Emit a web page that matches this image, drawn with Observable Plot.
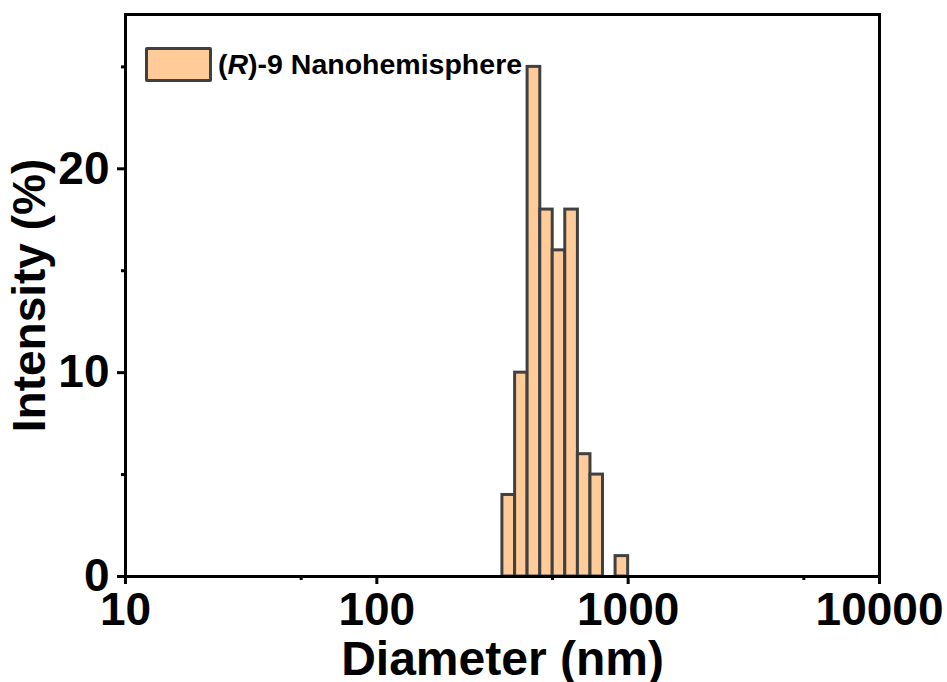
<!DOCTYPE html>
<html>
<head>
<meta charset="utf-8">
<script src="https://cdn.jsdelivr.net/npm/d3@7"></script>
<script src="https://cdn.jsdelivr.net/npm/@observablehq/plot@0.6"></script>
<style>
  html, body { margin: 0; padding: 0; background: #fff; }
  #chart { position: relative; width: 947px; height: 682px; }
  .legend {
    position: absolute; left: 145px; top: 47px;
    display: flex; align-items: center;
    font: bold 28.5px "Liberation Sans", Arial, sans-serif; color: #000;
  }
  .legend .swatch {
    width: 61px; height: 29px; background: #FFCC99;
    border: 3px solid #404040; border-radius: 2px; margin-right: 6px;
  }
</style>
</head>
<body>
<div id="chart"></div>
<script>
// Size distribution by intensity (DLS), log-spaced diameter bins
const binStart = [316, 355, 398, 447, 501, 562, 631, 708, 891];   // nm
const binEnd   = [355, 398, 447, 501, 562, 631, 708, 794, 1000];  // nm
const intensity = [4, 10, 25, 18, 16, 18, 6, 5, 1];               // %

const xMajor = [10, 100, 1000, 10000];
const xMinor = [50, 500, 5000];
const yMajor = [0, 10, 20];
const yMinor = [5, 15, 25];

const bins = binStart.map((d, i) => ({x1: d, x2: binEnd[i], y: intensity[i]}));

const font = "'Liberation Sans', Arial, sans-serif";

const plot = Plot.plot({
  width: 947,
  height: 682,
  marginLeft: 125,
  marginRight: 68,
  marginTop: 14,
  marginBottom: 106,
  style: {fontFamily: font, fontWeight: "bold", color: "#000", background: "#fff", overflow: "visible"},
  x: {type: "log", domain: [10, 10000]},
  y: {domain: [0, 27.57]},
  marks: [
    Plot.rectY(bins, {
      x1: "x1", x2: "x2", y: "y",
      fill: "#FFCC99", stroke: "#404040", strokeWidth: 3, inset: 0
    }),
    Plot.axisX({ticks: xMinor, tickSize: 4, strokeWidth: 3, tickFormat: () => "", label: null}),
    Plot.axisX({ticks: xMajor, tickSize: 8, tickPadding: 8, strokeWidth: 3,
      tickFormat: d => String(d), fontSize: 46, label: null}),
    Plot.axisY({ticks: yMinor, tickSize: 4, strokeWidth: 3, tickFormat: () => "", label: null}),
    Plot.axisY({ticks: yMajor, tickSize: 8, tickPadding: 8, strokeWidth: 3,
      tickFormat: d => String(d), fontSize: 46, label: null}),
    Plot.frame({stroke: "#000", strokeWidth: 3}),
    Plot.text(["Diameter (nm)"], {
      frameAnchor: "bottom", dy: 83, textAnchor: "middle", lineAnchor: "middle",
      fontSize: 48, fontWeight: "bold", fill: "#000"
    }),
    Plot.text(["Intensity (%)"], {
      frameAnchor: "left", dx: -95, rotate: -90, textAnchor: "middle", lineAnchor: "middle",
      fontSize: 46, fontWeight: "bold", fill: "#000"
    })
  ]
});

const chart = document.getElementById("chart");
chart.appendChild(plot);

// legend entry
const legend = document.createElement("div");
legend.className = "legend";
legend.innerHTML = '<span class="swatch"></span><span>(<i>R</i>)-9 Nanohemisphere</span>';
chart.appendChild(legend);
</script>
</body>
</html>
